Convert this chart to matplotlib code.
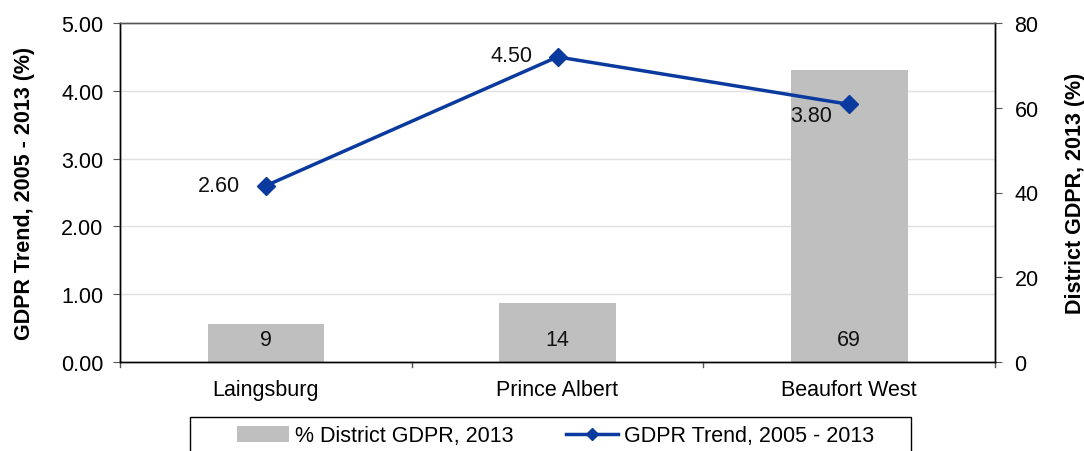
import matplotlib
matplotlib.use("Agg")
import matplotlib.pyplot as plt
from matplotlib.lines import Line2D
from matplotlib.patches import Patch, Rectangle
import numpy as np

plt.rcParams['font.family'] = ['Liberation Sans', 'DejaVu Sans']

categories = ["Laingsburg", "Prince Albert", "Beaufort West"]
district_share = [9, 14, 69]
gdpr_trend = [2.60, 4.50, 3.80]
left_ticks = [0, 1, 2, 3, 4, 5]
right_ticks = [0, 20, 40, 60, 80]

FS = 15.5
W, H = 1084, 452
fig = plt.figure(figsize=(W/100, H/100), dpi=100)
ax = fig.add_axes([120/W, 1-363/H, 875/W, 339/H])
ax2 = ax.twinx()

x = np.arange(len(categories))
bar_color = "#BFBFBF"
line_color = "#0A3A9E"

ax2.bar(x, district_share, width=0.4, color=bar_color, zorder=2)
ax2.set_ylim(0, 80)
ax2.set_yticks(right_ticks)
ax2.set_yticklabels([str(t) for t in right_ticks], fontsize=FS)
for xi, v in zip(x, district_share):
    ax2.text(xi, 5.4, str(v), ha="center", va="center", fontsize=FS, color="#111111")
ax2.set_ylabel("District GDPR, 2013 (%)", fontsize=FS, fontweight="bold", labelpad=19)

ax.set_zorder(ax2.get_zorder() + 1)
ax.patch.set_visible(False)
ax.plot(x, gdpr_trend, color=line_color, lw=2.5, marker="D", markersize=9, zorder=4)
ax.set_ylim(0, 5)
ax.set_yticks(left_ticks)
ax.set_yticklabels([f"{t:.2f}" for t in left_ticks], fontsize=FS)
ax.set_xlim(-0.5, 2.5)
ax.set_xticks(x)
ax.set_xticklabels(categories, fontsize=FS)
ax.set_ylabel("GDPR Trend, 2005 - 2013 (%)", fontsize=FS, fontweight="bold", labelpad=19)

offsets_px = [(-47, 0), (-46, 1), (-38, -11)]
for xi, v, (dx, dy) in zip(x, gdpr_trend, offsets_px):
    ax.annotate(f"{v:.2f}", (xi, v), xytext=(dx * 0.72, dy * 0.72), textcoords="offset points",
                ha="center", va="center", fontsize=FS, color="#111111", zorder=5)

for t in left_ticks[1:-1]:
    ax2.axhline(t * 16, color="#E0E0E0", lw=1, zorder=0)

for a in (ax, ax2):
    for s in a.spines.values():
        s.set_color("black")
        s.set_linewidth(1)
    a.spines["top"].set_color("#555555")
    a.tick_params(direction="out", length=5, color="#555555")
ax.tick_params(axis="y", pad=7)
ax.tick_params(axis="x", length=0, pad=12)
ax2.tick_params(axis="y", pad=9)
for b in [-0.5, 0.5, 1.5, 2.5]:
    ax.plot([b, b], [0, -0.07], color="#555555", lw=1, clip_on=False)

# legend box
fig.patches.append(Rectangle((190/W, -0.05), 721/W, 0.05 + (H-418)/H, transform=fig.transFigure,
                             facecolor="white", edgecolor="black", lw=1))
handles = [Patch(facecolor=bar_color, edgecolor="none"),
           Line2D([0], [0], color=line_color, lw=2.5, marker="D", markersize=6)]
leg = fig.legend(handles, ["% District GDPR, 2013", "GDPR Trend, 2005 - 2013"],
                 loc="center left", bbox_to_anchor=(237/W, 1-437/H), ncol=2,
                 fontsize=FS, frameon=False, borderpad=0, columnspacing=2.45,
                 handlelength=2.4, handletextpad=0.3, borderaxespad=0)

fig.savefig("out.png", dpi=100)
